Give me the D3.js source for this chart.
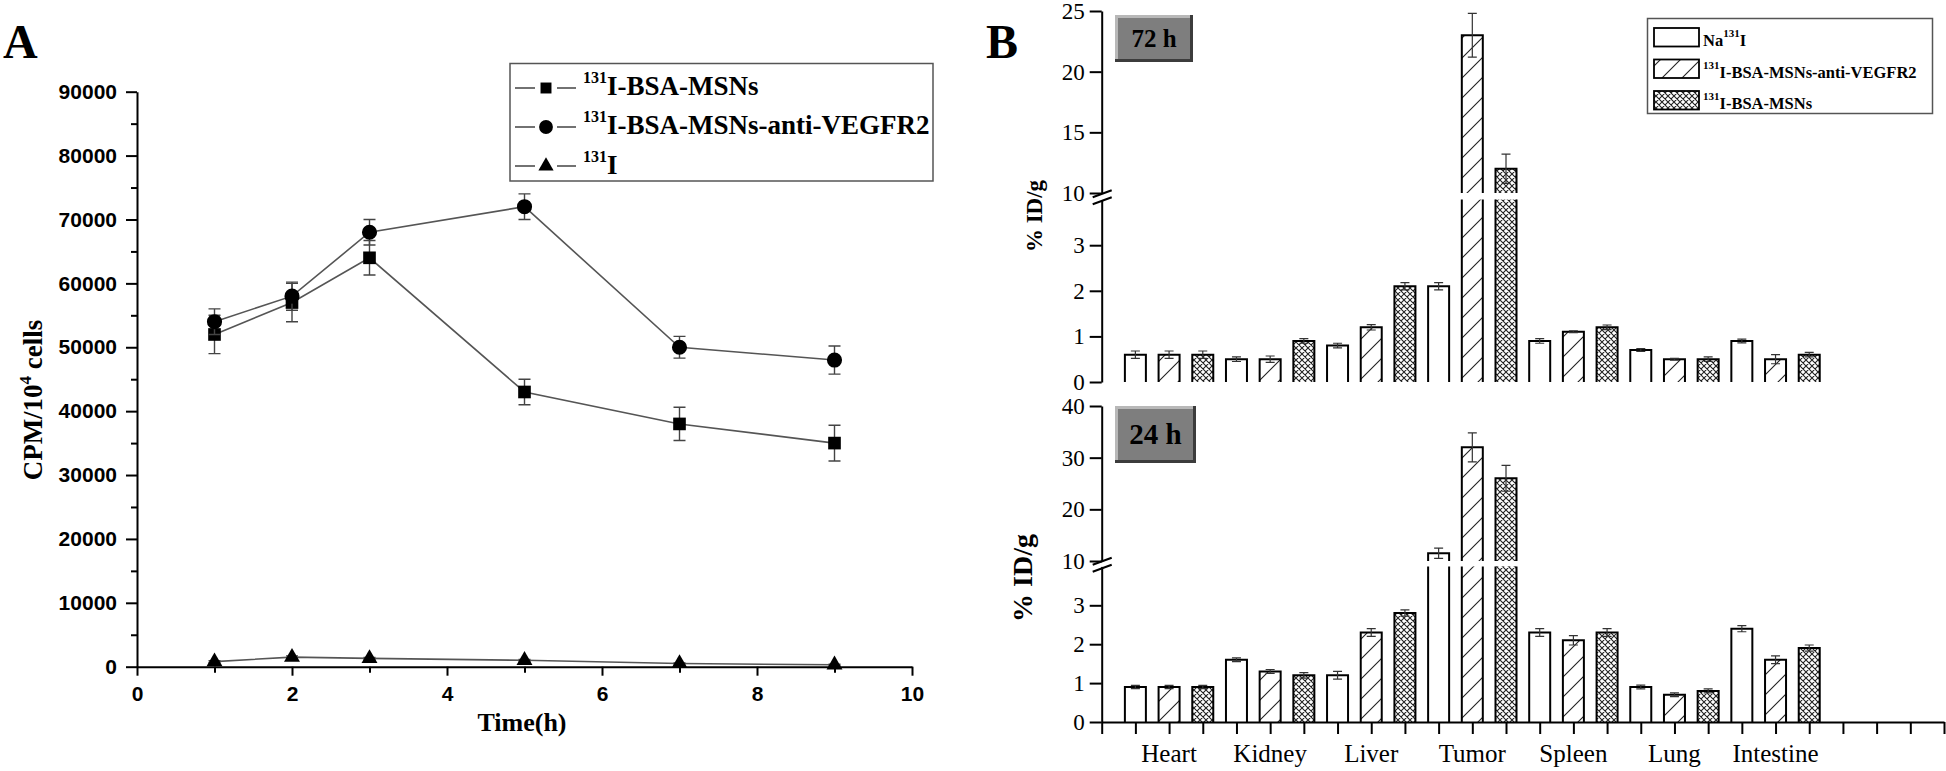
<!DOCTYPE html>
<html><head><meta charset="utf-8">
<script src="https://cdn.jsdelivr.net/npm/d3@7"></script>
<style>body{margin:0;background:#fff}svg{display:block}</style>
</head><body>
<svg id="c" width="1946" height="771"></svg>
<script>
// ---------- Panel A data ----------
const timeH = [1, 2, 3, 5, 7, 9];
const msnsCPM = [52000, 57000, 64000, 43000, 38000, 35000];
const msnsErr = [3000, 3000, 2700, 2000, 2600, 2800];
const vegfrCPM = [54000, 58000, 68000, 72000, 50000, 48000];
const vegfrErr = [2000, 2200, 2000, 2000, 1700, 2200];
const iodineCPM = [800, 1500, 1300, 1000, 500, 300];
const iodineErr = [150, 200, 150, 150, 100, 100];
const yTicksA = [0, 10000, 20000, 30000, 40000, 50000, 60000, 70000, 80000, 90000];
const xTicksA = [0, 2, 4, 6, 8, 10];

// ---------- Panel B data ----------
const organs = ["Heart", "Kidney", "Liver", "Tumor", "Spleen", "Lung", "Intestine"];
const na72 = [0.6, 0.5, 0.8, 2.1, 0.9, 0.7, 0.9];
const na72Err = [0.08, 0.05, 0.05, 0.08, 0.05, 0.03, 0.04];
const vegfr72 = [0.6, 0.5, 1.2, 23, 1.1, 0.5, 0.5];
const vegfr72Err = [0.08, 0.07, 0.06, 1.8, 0.02, 0.02, 0.1];
const msns72 = [0.6, 0.9, 2.1, 12, 1.2, 0.5, 0.6];
const msns72Err = [0.08, 0.05, 0.08, 1.2, 0.05, 0.05, 0.05];
const na24 = [0.9, 1.6, 1.2, 11.5, 2.3, 0.9, 2.4];
const na24Err = [0.04, 0.05, 0.1, 1.0, 0.1, 0.05, 0.08];
const vegfr24 = [0.9, 1.3, 2.3, 32, 2.1, 0.7, 1.6];
const vegfr24Err = [0.04, 0.05, 0.1, 2.8, 0.12, 0.05, 0.1];
const msns24 = [0.9, 1.2, 2.8, 26, 2.3, 0.8, 1.9];
const msns24Err = [0.04, 0.07, 0.08, 2.5, 0.1, 0.05, 0.08];
const lowTicksB = [0, 1, 2, 3];
const highTicks72 = [10, 15, 20, 25];
const highTicks24 = [10, 20, 30, 40];

const serif = "'Liberation Serif','Times New Roman',serif";
const sans = "'Liberation Sans',Arial,sans-serif";
const svg = d3.select("#c");

// patterns
const defs = svg.append("defs");
const ph = defs.append("pattern").attr("id", "hatch").attr("patternUnits", "userSpaceOnUse")
  .attr("width", 20).attr("height", 20);
ph.append("rect").attr("width", 20).attr("height", 20).attr("fill", "#fff");
ph.append("path").attr("d", "M0,20 L20,0 M-5,5 L5,-5 M15,25 L25,15")
  .attr("stroke", "#222").attr("stroke-width", 1.1);
const pc = defs.append("pattern").attr("id", "cross").attr("patternUnits", "userSpaceOnUse")
  .attr("width", 6).attr("height", 6);
pc.append("rect").attr("width", 6).attr("height", 6).attr("fill", "#fff");
pc.append("path").attr("d", "M0,0 L6,6 M6,0 L0,6 M-1,1 L1,-1 M5,7 L7,5 M-1,5 L1,7 M5,-1 L7,1")
  .attr("stroke", "#222").attr("stroke-width", 1.1);
const fills = ["#fff", "url(#hatch)", "url(#cross)"];

function styleAxis(g, font, size, weight) {
  g.select(".domain").attr("stroke", "#000").attr("stroke-width", 2);
  g.selectAll(".tick line").attr("stroke", "#000").attr("stroke-width", 2);
  g.selectAll(".tick text").attr("font-family", font).attr("font-size", size)
    .attr("font-weight", weight).attr("fill", "#000");
}

// ================= Panel A =================
const xA = d3.scaleLinear().domain([0, 10]).range([137, 912]);
const yA = d3.scaleLinear().domain([0, 90000]).range([666.7, 91.7]);
const gA = svg.append("g");

const yAxA = gA.append("g").attr("transform", "translate(137,0)")
  .call(d3.axisLeft(yA).tickValues(yTicksA).tickSize(11).tickSizeOuter(0).tickPadding(9).tickFormat(d3.format("d")));
styleAxis(yAxA, sans, 21, "bold");
const yMinA = gA.append("g").attr("transform", "translate(137,0)")
  .call(d3.axisLeft(yA).tickValues(yTicksA.slice(0, -1).map(d => d + 5000)).tickSize(6).tickFormat(""));
yMinA.select(".domain").remove();
yMinA.selectAll("line").attr("stroke-width", 2);

const xAxA = gA.append("g").attr("transform", "translate(0,666.7)")
  .call(d3.axisBottom(xA).tickValues(xTicksA).tickSize(9).tickSizeOuter(0).tickPadding(10));
styleAxis(xAxA, sans, 21, "bold");
const xMinA = gA.append("g").attr("transform", "translate(0,666.7)")
  .call(d3.axisBottom(xA).tickValues([1, 3, 5, 7, 9]).tickSize(6).tickFormat(""));
xMinA.select(".domain").remove();
xMinA.selectAll("line").attr("stroke-width", 2);

gA.append("text").attr("x", 522).attr("y", 731).attr("text-anchor", "middle")
  .attr("font-family", serif).attr("font-weight", "bold").attr("font-size", 26).text("Time(h)");
const yl = gA.append("text").attr("transform", "translate(42,400) rotate(-90)").attr("text-anchor", "middle")
  .attr("font-family", serif).attr("font-weight", "bold").attr("font-size", 27);
yl.append("tspan").text("CPM/10");
yl.append("tspan").attr("font-size", 17).attr("dy", -11).text("4");
yl.append("tspan").attr("dy", 11).text(" cells");

gA.append("text").attr("x", 3).attr("y", 58).attr("font-family", serif).attr("font-weight", "bold")
  .attr("font-size", 48).text("A");

const seriesA = [
  {v: msnsCPM, e: msnsErr, sym: d3.symbolSquare, size: 160},
  {v: vegfrCPM, e: vegfrErr, sym: d3.symbolCircle, size: 180},
  {v: iodineCPM, e: iodineErr, sym: d3.symbolTriangle, size: 110}
];
const lineA = d3.line().x(d => xA(d[0])).y(d => yA(d[1]));
seriesA.forEach(s => {
  const pts = timeH.map((t, i) => [t, s.v[i], s.e[i]]);
  gA.append("path").attr("d", lineA(pts)).attr("fill", "none").attr("stroke", "#555").attr("stroke-width", 1.6);
  pts.forEach(p => {
    const x = xA(p[0]), y0 = yA(p[1] - p[2]), y1 = yA(p[1] + p[2]);
    gA.append("path").attr("d", `M${x},${y0}V${y1}M${x - 6},${y0}H${x + 6}M${x - 6},${y1}H${x + 6}`)
      .attr("stroke", "#444").attr("stroke-width", 1.4).attr("fill", "none");
  });
  pts.forEach(p => {
    gA.append("path").attr("d", d3.symbol().type(s.sym).size(s.size)())
      .attr("transform", `translate(${xA(p[0])},${yA(p[1])})`).attr("fill", "#000");
  });
});

// legend A
gA.append("rect").attr("x", 510).attr("y", 63.5).attr("width", 423).attr("height", 117.5)
  .attr("fill", "#fff").attr("stroke", "#555").attr("stroke-width", 1.5);
const legA = [
  {sym: d3.symbolSquare, size: 120, label: "I-BSA-MSNs"},
  {sym: d3.symbolCircle, size: 150, label: "I-BSA-MSNs-anti-VEGFR2"},
  {sym: d3.symbolTriangle, size: 100, label: "I"}
];
legA.forEach((l, i) => {
  const cy = 88 + i * 39;
  gA.append("path").attr("d", `M515,${cy}H535M557,${cy}H576`).attr("stroke", "#444").attr("stroke-width", 1.6);
  gA.append("path").attr("d", d3.symbol().type(l.sym).size(l.size)()).attr("transform", `translate(546,${cy})`).attr("fill", "#000");
  const t = gA.append("text").attr("x", 583).attr("y", cy + 7 + (i === 2 ? 1 : 0)).attr("font-family", serif)
    .attr("font-weight", "bold").attr("font-size", 27);
  t.append("tspan").attr("font-size", 16).attr("dy", -12).text("131");
  t.append("tspan").attr("dy", 12).text(l.label);
});

// ================= Panel B =================
const xB = d3.scaleLinear().domain([0, 25]).range([1101.7, 1944]);
const barW = 21;
const gB = svg.append("g");
gB.append("text").attr("x", 986).attr("y", 58).attr("font-family", serif).attr("font-weight", "bold")
  .attr("font-size", 48).text("B");

const panels = [
  {low: [382, 199.6], hiDom: [10, 25], hiRange: [193, 11], hiTicks: highTicks72,
   data: [na72, vegfr72, msns72], errs: [na72Err, vegfr72Err, msns72Err],
   box: {x: 1115, y: 15, w: 78, h: 47, fs: 25, label: "72 h"},
   ylab: {x: 1042, y: 216, fs: 23}, xaxis: false},
  {low: [722, 566.4], hiDom: [10, 40], hiRange: [561, 406], hiTicks: highTicks24,
   data: [na24, vegfr24, msns24], errs: [na24Err, vegfr24Err, msns24Err],
   box: {x: 1115, y: 406, w: 81, h: 57, fs: 29, label: "24 h"},
   ylab: {x: 1032, y: 578, fs: 28}, xaxis: true}
];

panels.forEach(P => {
  const yLow = d3.scaleLinear().domain([0, 4]).range(P.low);
  const yHigh = d3.scaleLinear().domain(P.hiDom).range(P.hiRange);
  const ymap = v => v <= 4 ? yLow(v) : yHigh(Math.max(v, 10));
  const g = gB.append("g");

  // bars
  organs.forEach((o, i) => {
    P.data.forEach((arr, j) => {
      const v = arr[i];
      const xc = xB(i * 3 + j + 1), x0 = xc - barW / 2, x1 = xc + barW / 2;
      const segs = v <= 4 ? [[yLow(0), yLow(v), true]] :
        [[yLow(0), yLow(4), false], [yHigh(10), yHigh(v), true]];
      segs.forEach(([yb, yt, top]) => {
        g.append("rect").attr("x", x0).attr("y", yt).attr("width", barW).attr("height", yb - yt)
          .attr("fill", fills[j]);
        g.append("path").attr("d", top ? `M${x0},${yb}V${yt}H${x1}V${yb}` : `M${x0},${yb}V${yt}M${x1},${yb}V${yt}`)
          .attr("fill", "none").attr("stroke", "#000").attr("stroke-width", 2);
      });
      const e = P.errs[j][i];
      const ya = ymap(v - e), yb2 = ymap(v + e);
      g.append("path").attr("d", `M${xc},${ya}V${yb2}M${xc - 4.5},${ya}H${xc + 4.5}M${xc - 4.5},${yb2}H${xc + 4.5}`)
        .attr("stroke", "#333").attr("stroke-width", 1.2).attr("fill", "none");
    });
  });

  // y axes
  const axL = g.append("g").attr("transform", `translate(${xB(0)},0)`)
    .call(d3.axisLeft(yLow).tickValues(lowTicksB).tickSize(12).tickSizeOuter(0).tickPadding(5).tickFormat(d3.format("d")));
  styleAxis(axL, serif, 23, "normal");
  const axH = g.append("g").attr("transform", `translate(${xB(0)},0)`)
    .call(d3.axisLeft(yHigh).tickValues(P.hiTicks).tickSize(12).tickSizeOuter(0).tickPadding(5).tickFormat(d3.format("d")));
  styleAxis(axH, serif, 23, "normal");
  // break marks
  const gm = (P.low[1] + P.hiRange[0]) / 2;
  const bx = xB(0);
  g.append("path").attr("d", `M${bx - 9},${gm + 1}L${bx + 10},${gm - 6}M${bx - 9},${gm + 8}L${bx + 10},${gm + 1}`)
    .attr("stroke", "#000").attr("stroke-width", 2);

  // x axis
  if (P.xaxis) {
    const xAx = g.append("g").attr("transform", `translate(0,${P.low[0]})`)
      .call(d3.axisBottom(xB).tickValues(d3.range(0, 26)).tickSize(12).tickSizeOuter(0).tickFormat(""));
    styleAxis(xAx, serif, 25, "normal");
    organs.forEach((o, i) => {
      g.append("text").attr("x", xB(i * 3 + 2)).attr("y", 762).attr("text-anchor", "middle")
        .attr("font-family", serif).attr("font-size", 25).text(o);
    });
  }

  // gray label box
  const b = P.box;
  g.append("rect").attr("x", b.x).attr("y", b.y).attr("width", b.w).attr("height", b.h).attr("fill", "#7e7e7e");
  g.append("path").attr("d", `M${b.x + 1.5},${b.y + b.h}V${b.y + 1.5}H${b.x + b.w}`)
    .attr("stroke", "#b8b8b8").attr("stroke-width", 3).attr("fill", "none");
  g.append("path").attr("d", `M${b.x},${b.y + b.h - 1.5}H${b.x + b.w - 1.5}V${b.y}`)
    .attr("stroke", "#3c3c3c").attr("stroke-width", 3).attr("fill", "none");
  g.append("text").attr("x", b.x + b.w / 2).attr("y", b.y + b.h / 2 + b.fs * 0.34).attr("text-anchor", "middle")
    .attr("font-family", serif).attr("font-weight", "bold").attr("font-size", b.fs).text(b.label);

  // y label
  g.append("text").attr("transform", `translate(${P.ylab.x},${P.ylab.y}) rotate(-90)`).attr("text-anchor", "middle")
    .attr("font-family", serif).attr("font-weight", "bold").attr("font-size", P.ylab.fs).text("% ID/g");
});

// legend B
gB.append("rect").attr("x", 1647.5).attr("y", 18.5).attr("width", 285).attr("height", 95)
  .attr("fill", "#fff").attr("stroke", "#555").attr("stroke-width", 1.5);
const legB = [
  {pre: "Na", sup: "131", post: "I"},
  {pre: "", sup: "131", post: "I-BSA-MSNs-anti-VEGFR2"},
  {pre: "", sup: "131", post: "I-BSA-MSNs"}
];
legB.forEach((l, i) => {
  const ty = 28 + i * 31.5;
  gB.append("rect").attr("x", 1654).attr("y", ty).attr("width", 45).attr("height", 18.5)
    .attr("fill", fills[i]).attr("stroke", "#000").attr("stroke-width", 1.8);
  const t = gB.append("text").attr("x", 1703).attr("y", ty + 18).attr("font-family", serif)
    .attr("font-weight", "bold").attr("font-size", 16.5);
  if (l.pre) t.append("tspan").text(l.pre);
  t.append("tspan").attr("font-size", 11).attr("dy", -9).text(l.sup);
  t.append("tspan").attr("dy", 9).text(l.post);
});
</script>
</body></html>
